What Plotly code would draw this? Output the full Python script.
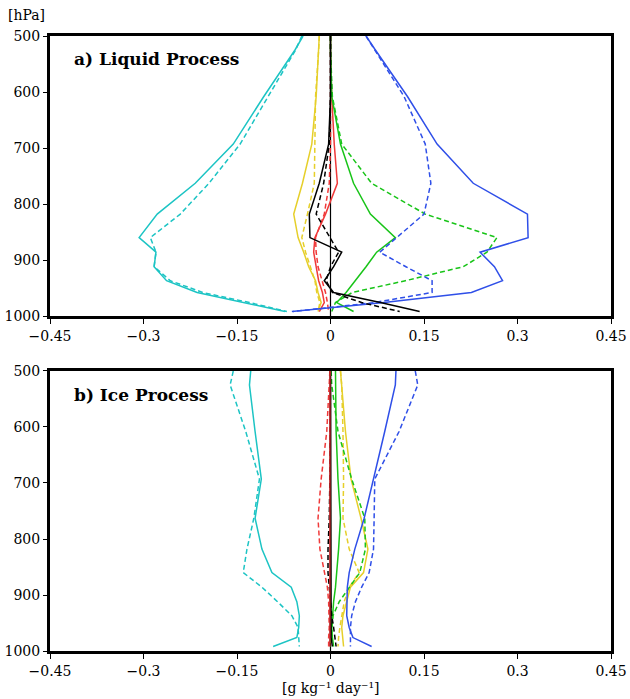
import plotly.graph_objects as go

# pressure levels (hPa)
levels = [500, 525, 608, 693, 763, 818, 860, 886, 912, 937, 958, 976, 992]

# ---- a) Liquid process (g kg-1 day-1) ----
liq_cyan_s = [-0.044, -0.057, -0.107, -0.156, -0.217, -0.278, -0.307, -0.280, -0.283, -0.263, -0.214, -0.139, -0.073]
liq_cyan_d = [-0.046, -0.056, -0.100, -0.145, -0.195, -0.241, -0.289, -0.280, -0.283, -0.257, -0.205, -0.130, -0.070]
liq_blue_s = [0.057, 0.072, 0.1235, 0.171, 0.229, 0.316, 0.317, 0.240, 0.263, 0.276, 0.226, 0.086, -0.062]
liq_blue_d = [0.057, 0.071, 0.118, 0.152, 0.161, 0.150, 0.107, 0.079, 0.121, 0.163, 0.163, 0.070, -0.060]
liq_green_s = [0.0, 0.0, 0.002, 0.016, 0.037, 0.064, 0.104, 0.074, 0.057, 0.040, 0.025, 0.010, 0.037]
liq_green_d = [0.0, 0.0, 0.003, 0.018, 0.066, 0.152, 0.267, 0.251, 0.213, 0.120, 0.035, 0.008, 0.002]
liq_red_s = [0.0, 0.0, 0.002, 0.006, 0.011, -0.008, -0.025, -0.027, -0.023, -0.019, -0.013, -0.010, -0.018]
liq_red_d = [0.0, 0.0, 0.0, 0.0, -0.002, -0.010, -0.024, -0.023, -0.020, -0.013, -0.008, -0.005, -0.003]
liq_black_s = [0.0, 0.0, 0.0, -0.003, -0.018, -0.034, -0.033, 0.018, 0.005, -0.010, 0.005, 0.080, 0.143]
liq_black_d = [0.0, 0.0, 0.0, -0.002, -0.011, -0.023, 0.000, 0.013, 0.000, -0.007, 0.003, 0.050, 0.111]
liq_yellow_s = [-0.018, -0.019, -0.023, -0.030, -0.045, -0.059, -0.052, -0.043, -0.035, -0.024, -0.020, -0.015, -0.020]
liq_yellow_d = [-0.018, -0.019, -0.024, -0.025, -0.026, -0.037, -0.046, -0.040, -0.032, -0.025, -0.022, -0.017, -0.020]

# ---- b) Ice process (g kg-1 day-1) ----
ice_cyan_s = [-0.128, -0.130, -0.121, -0.111, -0.121, -0.110, -0.094, -0.063, -0.054, -0.050, -0.051, -0.054, -0.092]
ice_cyan_d = [-0.156, -0.161, -0.136, -0.114, -0.123, -0.134, -0.140, -0.110, -0.085, -0.062, -0.052, -0.051, -0.050]
ice_blue_s = [0.105, 0.104, 0.087, 0.069, 0.054, 0.039, 0.030, 0.027, 0.026, 0.026, 0.030, 0.036, 0.066]
ice_blue_d = [0.136, 0.140, 0.110, 0.071, 0.070, 0.069, 0.062, 0.050, 0.040, 0.034, 0.032, 0.032, 0.032]
ice_green_s = [0.008, 0.008, 0.009, 0.012, 0.016, 0.013, 0.010, 0.008, 0.005, 0.003, 0.002, 0.003, 0.005]
ice_green_d = [0.001, 0.002, 0.012, 0.034, 0.055, 0.056, 0.047, 0.030, 0.014, 0.004, 0.002, 0.001, 0.0]
ice_yellow_s = [0.016, 0.018, 0.024, 0.033, 0.049, 0.060, 0.053, 0.032, 0.026, 0.020, 0.018, 0.019, 0.021]
ice_yellow_d = [0.016, 0.018, 0.020, 0.021, 0.020, 0.030, 0.046, 0.030, 0.022, 0.018, 0.015, 0.013, 0.012]
ice_red_s = [-0.001, -0.001, -0.001, -0.001, -0.001, -0.001, -0.001, -0.001, -0.001, -0.001, -0.001, -0.001, -0.001]
ice_red_d = [-0.001, -0.002, -0.006, -0.015, -0.020, -0.017, -0.009, -0.005, -0.003, -0.002, -0.002, -0.003, -0.003]
ice_black_s = [0.0, 0.0, 0.0, 0.0, 0.0, 0.0, 0.0, 0.0, 0.0, 0.0, 0.0, 0.001, 0.003]
ice_black_d = [0.0, 0.0, 0.0, -0.001, -0.002, -0.004, -0.004, -0.002, 0.0, 0.002, 0.005, 0.007, 0.009]

x_ticks = [-0.45, -0.3, -0.15, 0, 0.15, 0.3, 0.45]
x_ticktext = ["\u22120.45", "\u22120.3", "\u22120.15", "0", "0.15", "0.3", "0.45"]
y_ticks = [500, 600, 700, 800, 900, 1000]

CYAN = "#1CC4C4"
BLUE = "#2F4FE8"
GREEN = "#18C418"
RED = "#F03A3A"
YELLOW = "#E6CF2A"
BLACK = "#000000"
DASH = "5px,3px"

fig = go.Figure()

def add(vals, color, dashed, xa, ya, width=1.5):
    fig.add_trace(go.Scatter(
        x=vals, y=levels, mode="lines", xaxis=xa, yaxis=ya,
        line=dict(color=color, width=width, dash=DASH if dashed else "solid"),
        showlegend=False, hoverinfo="skip"))

panels = [
    ("x", "y", [(liq_cyan_d, CYAN, True), (liq_cyan_s, CYAN, False),
                (liq_yellow_d, YELLOW, True), (liq_yellow_s, YELLOW, False),
                (liq_red_d, RED, True), (liq_red_s, RED, False),
                (liq_green_d, GREEN, True), (liq_green_s, GREEN, False),
                (liq_blue_d, BLUE, True), (liq_blue_s, BLUE, False),
                (liq_black_d, BLACK, True), (liq_black_s, BLACK, False)]),
    ("x2", "y2", [(ice_cyan_d, CYAN, True), (ice_cyan_s, CYAN, False),
                  (ice_yellow_d, YELLOW, True), (ice_yellow_s, YELLOW, False),
                  (ice_green_d, GREEN, True), (ice_green_s, GREEN, False),
                  (ice_blue_d, BLUE, True), (ice_blue_s, BLUE, False),
                  (ice_black_d, BLACK, True), (ice_black_s, BLACK, False),
                  (ice_red_d, RED, True), (ice_red_s, "#C0282A", False)]),
]
for xa, ya, series in panels:
    for vals, color, dashed in series:
        add(vals, color, dashed, xa, ya)

FONT = "DejaVu Serif"
axis_common = dict(showgrid=False, zeroline=False, showline=True, mirror=True,
                   linecolor="black", linewidth=3, automargin=False,
                   tickfont=dict(family=FONT, size=14, color="black"))
xcommon = dict(axis_common, range=[-0.45, 0.45], tickvals=x_ticks, ticktext=x_ticktext,
               ticks="outside", ticklen=5, tickwidth=1, tickcolor="black")
ycommon = dict(axis_common, range=[1000, 500], tickvals=y_ticks,
               ticks="outside", ticklen=4, tickwidth=1, tickcolor="black")

fig.update_layout(
    width=630, height=699,
    margin=dict(l=50, r=19, t=36, b=48),
    paper_bgcolor="white", plot_bgcolor="white",
    xaxis=dict(xcommon, domain=[0, 1], anchor="y"),
    yaxis=dict(ycommon, domain=[0.5447, 1], anchor="x"),
    xaxis2=dict(xcommon, domain=[0, 1], anchor="y2"),
    yaxis2=dict(ycommon, domain=[0, 0.4553], anchor="x2"),
    shapes=[
        dict(type="line", xref="x", yref="y domain", x0=0, x1=0, y0=0, y1=1,
             line=dict(color="black", width=1.2), layer="below"),
        dict(type="line", xref="x2", yref="y2 domain", x0=0, x1=0, y0=0, y1=1,
             line=dict(color="black", width=1.2), layer="below"),
    ],
    annotations=[
        dict(text="<b>a) Liquid Process</b>", xref="paper", yref="paper",
             x=(72 - 50) / 561, y=(699 - 48 - 59) / 615, xanchor="left", yanchor="middle",
             showarrow=False, font=dict(family=FONT, size=17, color="black")),
        dict(text="<b>b) Ice Process</b>", xref="paper", yref="paper",
             x=(72 - 50) / 561, y=(699 - 48 - 395) / 615, xanchor="left", yanchor="middle",
             showarrow=False, font=dict(family=FONT, size=17, color="black")),
        dict(text="[hPa]", xref="paper", yref="paper",
             x=(6 - 50) / 561, y=(699 - 48 - 15) / 615, xanchor="left", yanchor="middle",
             showarrow=False, font=dict(family=FONT, size=14, color="black")),
        dict(text="[g kg\u207b\u00b9 day\u207b\u00b9]", xref="paper", yref="paper",
             x=(330 - 50) / 561, y=(699 - 48 - 688) / 615, xanchor="center", yanchor="middle",
             showarrow=False, font=dict(family=FONT, size=14, color="black")),
    ],
)

fig.write_html("out.html")
